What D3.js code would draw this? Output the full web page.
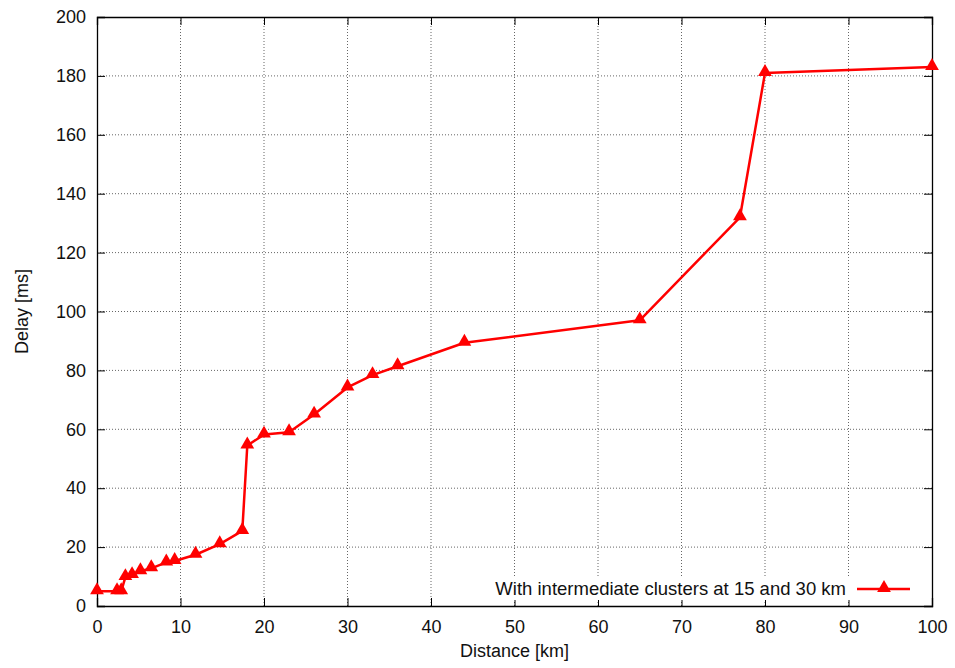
<!DOCTYPE html>
<html>
<head>
<meta charset="utf-8">
<script src="https://cdn.jsdelivr.net/npm/d3@7"></script>
<style>
  body { margin: 0; background: #fff; }
  svg { font-family: "Liberation Sans", Arial, Helvetica, sans-serif; }
  .axis text { font-size: 18px; fill: #111; }
  .axis path, .axis line { stroke: #000; }
</style>
</head>
<body>
<svg id="chart"></svg>
<script>
// Distance (km) and delay (ms)
const distance = [0, 2.4, 2.9, 3.4, 4.2, 5.2, 6.5, 8.3, 9.3, 11.8, 14.7, 17.4, 18, 20, 23, 26, 30, 33, 36, 44, 65, 77, 80, 100];
const delay = [5, 5, 5, 9.8, 10.5, 11.8, 12.8, 14.8, 15.3, 17.4, 21, 25.5, 54.5, 58.2, 59, 65, 74.2, 78.4, 81.4, 89.4, 97, 132, 181, 183];
const xTicks = [0, 10, 20, 30, 40, 50, 60, 70, 80, 90, 100];
const yTicks = [0, 20, 40, 60, 80, 100, 120, 140, 160, 180, 200];
const seriesLabel = 'With intermediate clusters at 15 and 30 km';
const xLabel = 'Distance [km]';
const yLabel = 'Delay [ms]';

const config = { width: 955, height: 668, margin: { top: 17, right: 23, bottom: 62, left: 97 } };
const width = config.width - config.margin.left - config.margin.right;
const height = config.height - config.margin.top - config.margin.bottom;

const data = distance.map((d, i) => ({ x: d, y: delay[i] }));

const svg = d3.select('#chart')
  .attr('width', config.width)
  .attr('height', config.height);

const g = svg.append('g')
  .attr('transform', `translate(${config.margin.left},${config.margin.top})`);

const xScale = d3.scaleLinear().domain([0, 100]).range([0, width]);
const yScale = d3.scaleLinear().domain([0, 200]).range([height, 0]);

// Dotted grid
g.append('g').selectAll('line')
  .data(xTicks.filter(d => d > 0 && d < 100))
  .join('line')
  .attr('x1', d => xScale(d)).attr('x2', d => xScale(d))
  .attr('y1', 0).attr('y2', height)
  .attr('stroke', '#666').attr('stroke-width', 1).attr('stroke-dasharray', '1,2');

g.append('g').selectAll('line')
  .data(yTicks.filter(d => d > 0 && d < 200))
  .join('line')
  .attr('x1', 0).attr('x2', width)
  .attr('y1', d => yScale(d)).attr('y2', d => yScale(d))
  .attr('stroke', '#666').attr('stroke-width', 1).attr('stroke-dasharray', '1,2');

// Axes, ticks pointing inward
g.append('g')
  .attr('class', 'axis')
  .attr('transform', `translate(0,${height})`)
  .call(d3.axisBottom(xScale).tickValues(xTicks).tickSize(-8).tickPadding(14));

g.append('g')
  .attr('class', 'axis')
  .call(d3.axisLeft(yScale).tickValues(yTicks).tickSize(-8).tickPadding(11));

g.append('g')
  .attr('class', 'axis')
  .call(d3.axisTop(xScale).tickValues(xTicks).tickSize(-8).tickFormat(''));

g.append('g')
  .attr('class', 'axis')
  .attr('transform', `translate(${width},0)`)
  .call(d3.axisRight(yScale).tickValues(yTicks).tickSize(-8).tickFormat(''));

g.selectAll('.axis .domain').attr('stroke-width', 1.3);

// Legend background (hides grid behind the key)
const legendY = 589;
svg.append('rect')
  .attr('x', 487).attr('y', legendY - 13)
  .attr('width', 432).attr('height', 24)
  .attr('fill', '#fff');

// Series line and triangle markers
const line = d3.line().x(d => xScale(d.x)).y(d => yScale(d.y));

g.append('path')
  .datum(data)
  .attr('fill', 'none')
  .attr('stroke', '#ff0000')
  .attr('stroke-width', 2.5)
  .attr('stroke-linejoin', 'round')
  .attr('d', line);

const tri = d3.symbol().type(d3.symbolTriangle).size(82);

g.selectAll('.pt')
  .data(data)
  .join('path')
  .attr('class', 'pt')
  .attr('transform', d => `translate(${xScale(d.x)},${yScale(d.y) - 1})`)
  .attr('d', tri)
  .attr('fill', '#ff0000');

// Legend
svg.append('text')
  .attr('x', 846).attr('y', legendY + 6)
  .attr('text-anchor', 'end')
  .style('font-size', '18.5px')
  .attr('fill', '#111')
  .text(seriesLabel);

svg.append('line')
  .attr('x1', 857).attr('x2', 910)
  .attr('y1', legendY).attr('y2', legendY)
  .attr('stroke', '#ff0000').attr('stroke-width', 2.5);

svg.append('path')
  .attr('transform', `translate(884,${legendY - 1})`)
  .attr('d', tri)
  .attr('fill', '#ff0000');

// Axis labels
svg.append('text')
  .attr('x', config.margin.left + width / 2)
  .attr('y', 657)
  .attr('text-anchor', 'middle')
  .style('font-size', '18px')
  .attr('fill', '#111')
  .text(xLabel);

svg.append('text')
  .attr('transform', `translate(28,${config.margin.top + height / 2}) rotate(-90)`)
  .attr('text-anchor', 'middle')
  .style('font-size', '18px')
  .attr('fill', '#111')
  .text(yLabel);
</script>
</body>
</html>
